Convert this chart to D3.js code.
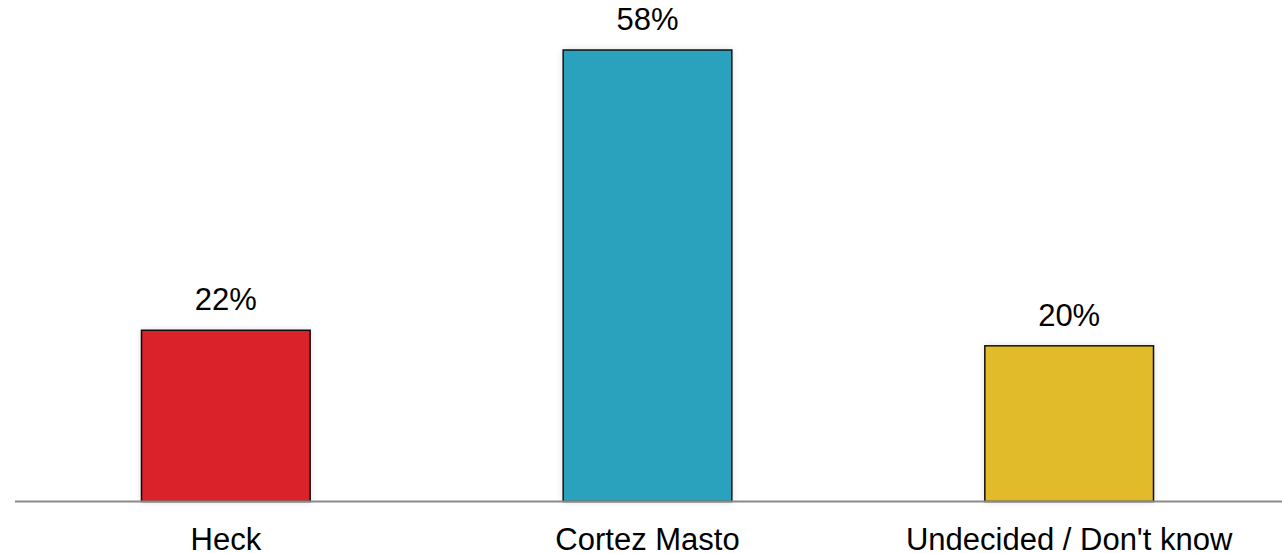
<!DOCTYPE html>
<html>
<head>
<meta charset="utf-8">
<script src="https://cdn.jsdelivr.net/npm/d3@7"></script>
<style>
  html, body { margin: 0; padding: 0; background: #fff; }
  svg { display: block; }
  text { font-family: "Liberation Sans", Arial, sans-serif; fill: #000; }
</style>
</head>
<body>
<svg id="chart" width="1282" height="553"></svg>
<script>
const categories = ["Heck", "Cortez Masto", "Undecided / Don't know"];
const values = [22, 58, 20];
const valueLabels = ["22%", "58%", "20%"];
const colors = ["#d92029", "#2ca2be", "#e2bb2a"];

const W = 1282, H = 553;
const baseY = 501.5;
const svg = d3.select("#chart");

const defs = svg.append("defs");
const f = defs.append("filter").attr("id", "shadow").attr("x", "-10%").attr("y", "-10%").attr("width", "120%").attr("height", "120%");
f.append("feDropShadow").attr("dx", 0).attr("dy", 0).attr("stdDeviation", 3).attr("flood-color", "#000").attr("flood-opacity", 0.12);

const x = d3.scaleBand().domain(categories).range([15, 1280]).paddingInner(0.6).paddingOuter(0.3);
const y = d3.scaleLinear().domain([0, 58]).range([baseY, 50]);

const data = categories.map((c, i) => ({ c, v: values[i], label: valueLabels[i], color: colors[i] }));

svg.selectAll("rect.bar").data(data).enter().append("rect")
  .attr("class", "bar")
  .attr("x", d => x(d.c))
  .attr("y", d => y(d.v))
  .attr("width", x.bandwidth())
  .attr("height", d => baseY - y(d.v))
  .attr("fill", d => d.color)
  .attr("stroke", "#111")
  .attr("stroke-width", 1.5)
  .attr("filter", "url(#shadow)");

svg.selectAll("text.val").data(data).enter().append("text")
  .attr("class", "val")
  .attr("x", d => x(d.c) + x.bandwidth() / 2)
  .attr("y", d => y(d.v) - 20)
  .attr("text-anchor", "middle")
  .attr("font-size", 31)
  .text(d => d.label);

const xAxis = d3.axisBottom(x).tickSize(0).tickPadding(0);
const gx = svg.append("g").attr("transform", `translate(0,${baseY})`).call(xAxis);
gx.select(".domain").remove();
gx.selectAll("text")
  .attr("font-size", 31)
  .attr("font-family", "'Liberation Sans', Arial, sans-serif")
  .attr("fill", "#000")
  .attr("dy", null)
  .attr("y", 48);

svg.append("line")
  .attr("x1", 15).attr("x2", W)
  .attr("y1", baseY).attr("y2", baseY)
  .attr("stroke", "#8a8a8a").attr("stroke-width", 2);
</script>
</body>
</html>
